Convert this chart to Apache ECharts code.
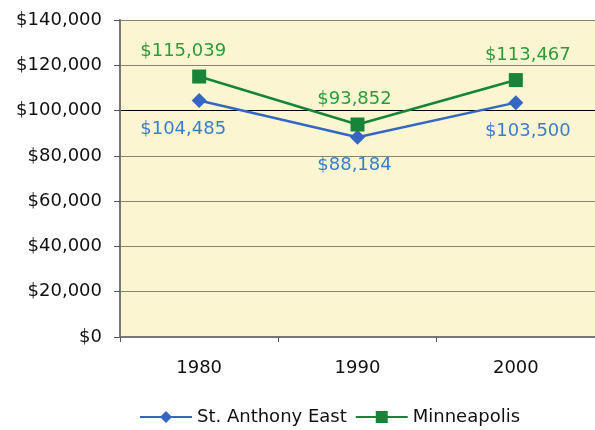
<!DOCTYPE html>
<html>
<head>
<meta charset="utf-8">
<script src="https://cdn.jsdelivr.net/npm/echarts@6/dist/echarts.min.js"></script>
<style>
  html, body { margin: 0; padding: 0; background: #fff; }
  #chart { width: 595px; height: 430px; }
</style>
</head>
<body>
<div id="chart"></div>
<script>
// data
const years = ["1980", "1990", "2000"];
const stAnthonyEast = [104485, 88184, 103500];
const minneapolis = [115039, 93852, 113467];
const seriesNames = ["St. Anthony East", "Minneapolis"];

const fmt = (v) => "$" + v.toLocaleString("en-US");
const font = "DejaVu Sans, Verdana, sans-serif";

// Excel nudged the end labels sideways a bit
const labelShift = [-16, -3, 12];

const withShift = (vals) =>
  vals.map((v, i) => ({ value: v, label: { offset: [labelShift[i], 0] } }));

const chart = echarts.init(document.getElementById("chart"));

chart.setOption({
  animation: false,
  textStyle: { fontFamily: font },
  grid: { left: 120, top: 20, width: 480, height: 317, backgroundColor: "#FBF6D1", show: true, borderWidth: 0 },
  legend: {
    bottom: -1,
    left: 134,
    itemWidth: 52,
    itemHeight: 15,
    itemGap: 8,
    textStyle: { fontSize: 18, color: "#111", fontFamily: font },
    data: seriesNames
  },
  xAxis: {
    type: "category",
    data: years,
    boundaryGap: true,
    axisLine: { lineStyle: { color: "#777", width: 2 } },
    axisTick: { show: true, length: 5, lineStyle: { color: "#555" } },
    axisLabel: { fontSize: 18, color: "#111", margin: 22, fontFamily: font }
  },
  yAxis: {
    type: "value",
    min: 0,
    max: 140000,
    interval: 20000,
    axisLine: { show: true, lineStyle: { color: "#777", width: 2 } },
    axisTick: { show: true, length: 6, lineStyle: { color: "#555" } },
    axisLabel: { fontSize: 18, color: "#111", margin: 18, fontFamily: font, formatter: (v) => fmt(v) },
    splitLine: {
      lineStyle: {
        color: ["#8a8570", "#8a8570", "#8a8570", "#8a8570", "#8a8570", "#000", "#8a8570", "#8a8570"],
        width: 1
      }
    }
  },
  series: [
    {
      name: seriesNames[0],
      type: "line",
      data: withShift(stAnthonyEast),
      symbol: "diamond",
      symbolSize: 15,
      color: "#3466C2",
      lineStyle: { width: 2.5, color: "#3466C2" },
      itemStyle: { color: "#3466C2" },
      label: {
        show: true,
        position: "bottom",
        distance: 12,
        fontSize: 18,
        fontFamily: font,
        color: "#3C7DCB",
        formatter: (p) => fmt(p.value)
      }
    },
    {
      name: seriesNames[1],
      type: "line",
      data: withShift(minneapolis),
      symbol: "rect",
      symbolSize: 14,
      color: "#17843A",
      lineStyle: { width: 2.5, color: "#17843A" },
      itemStyle: { color: "#17843A" },
      label: {
        show: true,
        position: "top",
        distance: 9,
        fontSize: 18,
        fontFamily: font,
        color: "#2E9A38",
        formatter: (p) => fmt(p.value)
      }
    }
  ]
});
</script>
</body>
</html>
